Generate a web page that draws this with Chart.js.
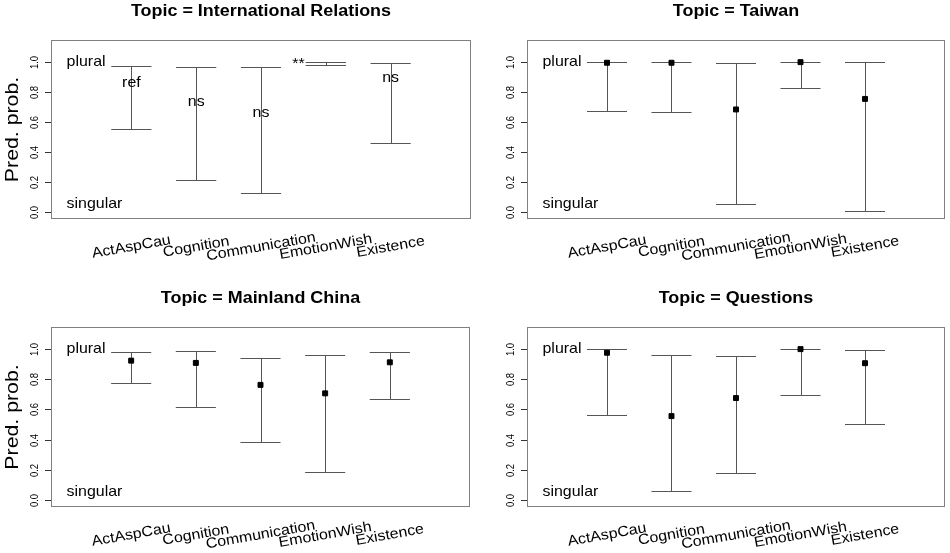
<!doctype html>
<html>
<head>
<meta charset="utf-8">
<title>Pred. prob. by Topic</title>
<script src="https://cdn.jsdelivr.net/npm/chart.js@4.4.1/dist/chart.umd.min.js"></script>
<style>
    body { margin: 0; background: #fff; width: 950px; height: 553px; position: relative; overflow: hidden; }
    canvas { position: absolute; }
</style>
</head>
<body>
<canvas id="c1" width="475" height="276" style="left:0;top:0"></canvas>
<canvas id="c2" width="475" height="276" style="left:475px;top:0"></canvas>
<canvas id="c3" width="475" height="277" style="left:0;top:276px"></canvas>
<canvas id="c4" width="475" height="277" style="left:475px;top:276px"></canvas>

<script>
// categories and y ticks
var categories = ['ActAspCau', 'Cognition', 'Communication', 'EmotionWish', 'Existence'];
var yTicks = [0.0, 0.2, 0.4, 0.6, 0.8, 1.0];

// Topic = International Relations (labels instead of points)
var irLabels = ['ref', 'ns', 'ns', '**', 'ns'];
var irLabelY = [0.86, 0.735, 0.66, 0.99, 0.89];
var irLower = [0.554, 0.216, 0.130, 0.975, 0.460];
var irUpper = [0.973, 0.967, 0.965, 1.000, 0.990];

// Topic = Taiwan
var twEst   = [0.993, 0.993, 0.683, 0.997, 0.753];
var twLower = [0.674, 0.666, 0.055, 0.824, 0.009];
var twUpper = [1.000, 1.000, 0.989, 1.000, 1.000];

// Topic = Mainland China
var mcEst   = [0.922, 0.907, 0.762, 0.706, 0.911];
var mcLower = [0.772, 0.613, 0.386, 0.185, 0.669];
var mcUpper = [0.977, 0.984, 0.942, 0.962, 0.982];

// Topic = Questions
var qEst   = [0.974, 0.556, 0.675, 0.998, 0.905];
var qLower = [0.563, 0.060, 0.179, 0.697, 0.507];
var qUpper = [1.000, 0.960, 0.951, 1.000, 0.989];

var FONT = '"Liberation Sans", Arial, sans-serif';
var CAP = 0.31;  // half width of the error bar caps, in x units

function txt(ctx, s, x, y, o) {
    ctx.save();
    ctx.translate(x, y);
    ctx.rotate(o.rot || 0);
    ctx.scale(o.sx || 1.1, 1);
    ctx.font = (o.bold ? 'bold ' : '') + o.size + 'px ' + FONT;
    ctx.textAlign = o.align || 'center';
    ctx.textBaseline = 'middle';
    ctx.fillStyle = '#000';
    ctx.fillText(s, 0, 0);
    ctx.restore();
}

var panelPlugin = {
    id: 'panel',
    beforeDatasetsDraw: function(chart) {
        var p = chart.options.plugins.panel;
        var ctx = chart.ctx, a = chart.chartArea;
        var xs = chart.scales.x, ys = chart.scales.y;
        ctx.save();
        // box
        ctx.strokeStyle = '#808080';
        ctx.lineWidth = 1;
        ctx.strokeRect(Math.round(a.left) + 0.5, Math.round(a.top) + 0.5,
            Math.round(a.right - a.left) - 1, Math.round(a.bottom - a.top) - 1);

        // error bars
        ctx.strokeStyle = '#555';
        for (var i = 0; i < categories.length; i++) {
            var xc = Math.round(xs.getPixelForValue(i + 1)) + 0.5;
            var xl = xs.getPixelForValue(i + 1 - CAP), xr = xs.getPixelForValue(i + 1 + CAP);
            var yl = Math.round(ys.getPixelForValue(p.lower[i])) + 0.5;
            var yu = Math.round(ys.getPixelForValue(p.upper[i])) + 0.5;
            ctx.beginPath();
            ctx.moveTo(xc, yl); ctx.lineTo(xc, yu);
            ctx.moveTo(xl, yl); ctx.lineTo(xr, yl);
            ctx.moveTo(xl, yu); ctx.lineTo(xr, yu);
            ctx.stroke();
        }

        // y axis ticks
        ctx.strokeStyle = '#333';
        yTicks.forEach(function(t) {
            var y = Math.round(ys.getPixelForValue(t)) + 0.5;
            ctx.beginPath();
            ctx.moveTo(a.left - 6, y); ctx.lineTo(a.left, y);
            ctx.stroke();
            txt(ctx, t.toFixed(1), a.left - 16, y, {size: 10, sx: 0.95, rot: -Math.PI / 2});
        });
        ctx.restore();

        // title
        txt(ctx, p.title, (a.left + a.right) / 2, a.top - 28, {size: 16, bold: true, sx: 1.12});
        // y axis title on left panels
        if (p.ylab) {
            txt(ctx, 'Pred. prob.', 12.5, (a.top + a.bottom) / 2, {size: 19, sx: 1.12, rot: -Math.PI / 2});
        }
        // plural / singular
        txt(ctx, 'plural', xs.getPixelForValue(0), ys.getPixelForValue(1.0), {size: 14.5, align: 'left'});
        txt(ctx, 'singular', xs.getPixelForValue(0), ys.getPixelForValue(0.055), {size: 14.5, align: 'left'});

        // category labels
        categories.forEach(function(c, i) {
            txt(ctx, c, xs.getPixelForValue(i + 1), a.bottom + 28, {size: 14.5, rot: -10 * Math.PI / 180});
        });

        // significance labels
        if (p.labels) {
            p.labels.forEach(function(s, i) {
                var y = ys.getPixelForValue(p.labelY[i]);
                if (s === '**') {
                    txt(ctx, s, xs.getPixelForValue(i + 1 - CAP) - 1, y + 1, {size: 14.5, align: 'right'});
                } else {
                    txt(ctx, s, xs.getPixelForValue(i + 1), y, {size: 14.5});
                }
            });
        }
    }
};

function makePanel(id, title, est, lower, upper, extra, pad) {
    var pts = est ? est.map(function(v, i) { return {x: i + 1, y: v}; }) : [];
    var cfg = {
        type: 'scatter',
        data: {
            datasets: [{
                data: pts,
                pointStyle: 'rect',
                pointRadius: 3.5,
                backgroundColor: '#000',
                borderColor: '#000',
                borderWidth: 1
            }]
        },
        options: {
            responsive: false,
            animation: false,
            events: [],
            layout: {padding: pad},
            scales: {
                x: {type: 'linear', min: -0.24, max: 6.24, display: false},
                y: {min: -0.044, max: 1.144, display: false}
            },
            plugins: {
                legend: {display: false},
                tooltip: {enabled: false},
                panel: Object.assign({title: title, lower: lower, upper: upper}, extra)
            }
        },
        plugins: [panelPlugin]
    };
    return new Chart(document.getElementById(id).getContext('2d'), cfg);
}

makePanel('c1', 'Topic = International Relations', null, irLower, irUpper,
    {ylab: true, labels: irLabels, labelY: irLabelY}, {left: 51, right: 4, top: 40, bottom: 57});
makePanel('c2', 'Topic = Taiwan', twEst, twLower, twUpper,
    {}, {left: 52, right: 3, top: 40, bottom: 57});
makePanel('c3', 'Topic = Mainland China', mcEst, mcLower, mcUpper,
    {ylab: true}, {left: 51, right: 4, top: 51, bottom: 46});
makePanel('c4', 'Topic = Questions', qEst, qLower, qUpper,
    {}, {left: 52, right: 3, top: 51, bottom: 46});
</script>
</body>
</html>
